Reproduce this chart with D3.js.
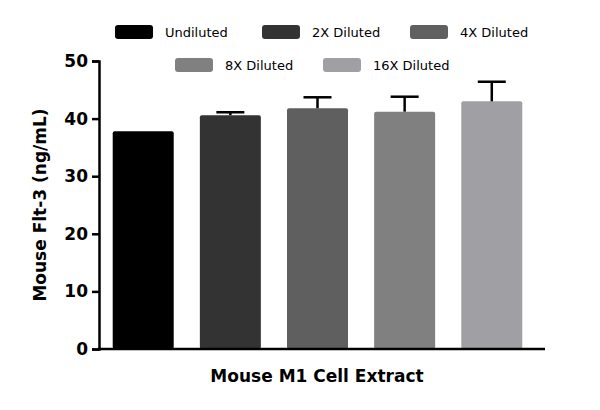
<!DOCTYPE html><html><head><script src="https://cdn.jsdelivr.net/npm/d3@7"></script>
<style>body{margin:0;background:#fff}text{font-family:"DejaVu Sans",sans-serif}</style></head><body><svg id="c" width="600" height="410"></svg>
<script>
const categories=["Undiluted","2X Diluted","4X Diluted","8X Diluted","16X Diluted"];
const values=[37.8,40.6,41.8,41.2,43.0];
const errors=[0,0.5,1.9,2.6,3.4];
const colors=["#000000","#333333","#5f5f5f","#808080","#a0a0a4"];
const yTicks=[0,10,20,30,40,50];
const svg=d3.select("#c");
const x=d3.scaleBand().domain(categories).range([104,531]).paddingInner(0.3).paddingOuter(0.1);
const y=d3.scaleLinear().domain([0,50]).range([349,61]);
const g=svg.append("g");
categories.forEach((c,i)=>{
 g.append("rect").attr("x",x(c)).attr("y",y(values[i])).attr("width",x.bandwidth()).attr("height",y(0)-y(values[i])).attr("fill",colors[i]).attr("rx",2);
 if(errors[i]>0){const cx=x(c)+x.bandwidth()/2;
 g.append("line").attr("x1",cx).attr("x2",cx).attr("y1",y(values[i])).attr("y2",y(values[i]+errors[i])).attr("stroke","#000").attr("stroke-width",2.5);
 g.append("line").attr("x1",cx-14).attr("x2",cx+14).attr("y1",y(values[i]+errors[i])).attr("y2",y(values[i]+errors[i])).attr("stroke","#000").attr("stroke-width",2.5);}
});
const ax=svg.append("g").attr("transform","translate(99,0)").call(d3.axisLeft(y).tickValues(yTicks).tickSize(7).tickPadding(4));
ax.select(".domain").attr("stroke-width",2.5);ax.selectAll("line").attr("stroke-width",2.5);
ax.selectAll("text").attr("font-size",17).attr("font-weight","bold").attr("fill","#000");
svg.append("line").attr("x1",98).attr("x2",545).attr("y1",349).attr("y2",349).attr("stroke","#000").attr("stroke-width",2.5);
svg.append("text").attr("x",317).attr("y",382).attr("text-anchor","middle").attr("font-size",17).attr("font-weight","bold").text("Mouse M1 Cell Extract");
svg.append("text").attr("transform","translate(46,205) rotate(-90)").attr("text-anchor","middle").attr("font-size",17).attr("font-weight","bold").text("Mouse Flt-3 (ng/mL)");
const leg=[[115,32],[262,32],[410,32],[175,65],[323,65]];
categories.forEach((c,i)=>{
 svg.append("rect").attr("x",leg[i][0]).attr("y",leg[i][1]-7).attr("width",38).attr("height",14).attr("rx",3).attr("fill",colors[i]);
 svg.append("text").attr("x",leg[i][0]+50).attr("y",leg[i][1]+5).attr("font-size",13).text(c);
});
</script></body></html>
